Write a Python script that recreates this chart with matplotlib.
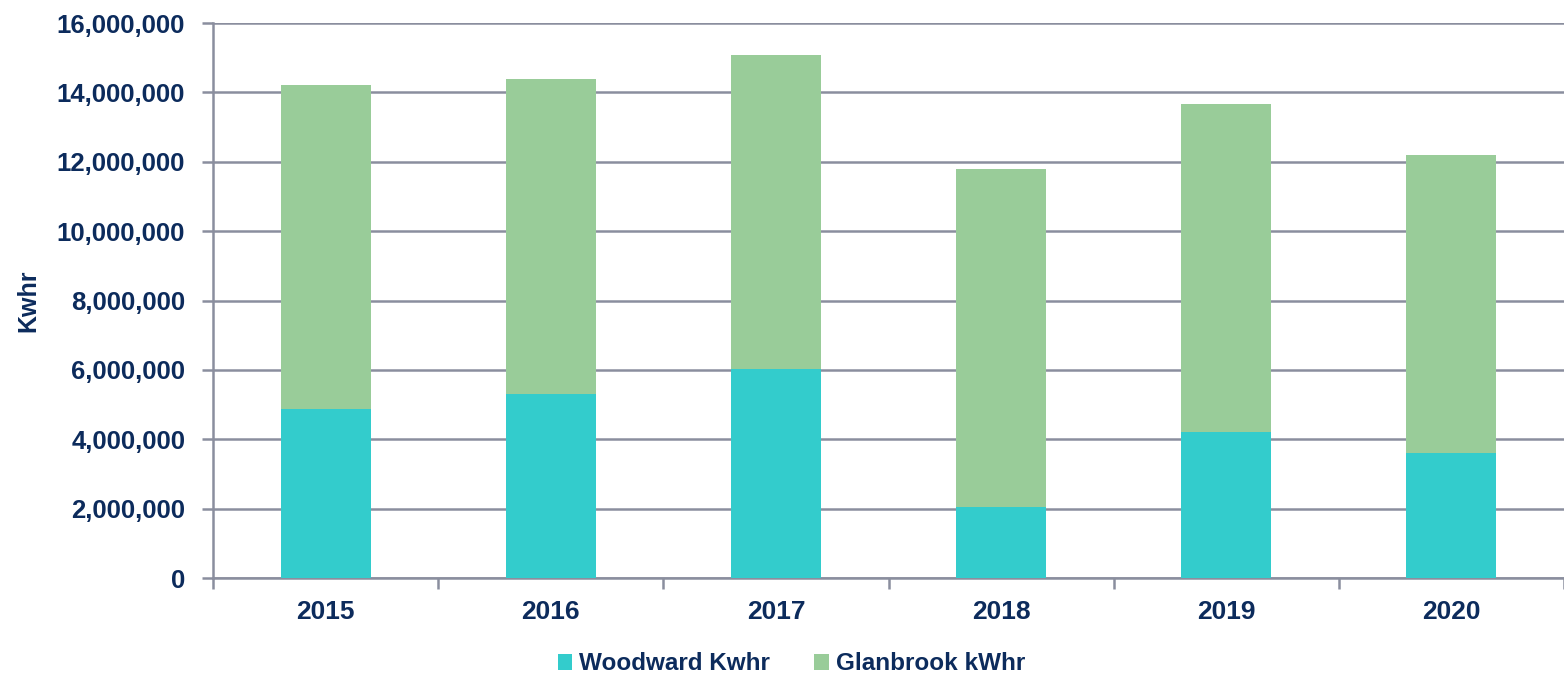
import matplotlib
matplotlib.use('Agg')

import numpy as np
from matplotlib import pyplot as plt
from matplotlib.ticker import FuncFormatter

years = ['2015', '2016', '2017', '2018', '2019', '2020']
woodward = [4.86e6, 5.31e6, 6.02e6, 2.06e6, 4.20e6, 3.61e6]
glanbrook = [9.34e6, 9.07e6, 9.06e6, 9.73e6, 9.46e6, 8.58e6]

navy = '#0c2b5c'
grid_col = '#8a8e9e'

plt.rcParams['font.family'] = ['Liberation Sans', 'DejaVu Sans']
plt.rcParams['font.weight'] = 'bold'

fig = plt.figure(figsize=(15.64, 6.75), dpi=100)
ax = fig.add_axes([213/1564, 1 - 578/675, 1 - 213/1564, (578 - 23)/675])

x = np.arange(len(years))
ax.bar(x, woodward, width=0.4, color='#33cccc', label='Woodward Kwhr', zorder=3)
ax.bar(x, glanbrook, width=0.4, bottom=woodward, color='#99cc99',
       label='Glanbrook kWhr', zorder=3)

ax.set_xlim(-0.5, len(years) - 0.5)
ax.set_ylim(0, 16e6)
ax.set_yticks(np.arange(0, 16e6 + 1, 2e6))
ax.yaxis.set_major_formatter(FuncFormatter(lambda v, p: '{:,.0f}'.format(v)))
ax.grid(axis='y', color=grid_col, linewidth=1.8, zorder=0)

# category labels centred, ticks on the boundaries
ax.set_xticks(x)
ax.set_xticklabels(years)
ax.set_xticks(np.arange(-0.5, len(years)), minor=True)
ax.tick_params(axis='x', which='major', length=0, pad=16, labelsize=19, labelcolor=navy)
ax.tick_params(axis='x', which='minor', length=8, width=1.8, color=grid_col)
ax.tick_params(axis='y', length=8, width=1.8, color=grid_col, labelsize=18.5,
               labelcolor=navy, pad=12)

for s in ['top', 'right']:
    ax.spines[s].set_visible(False)
for s in ['left', 'bottom']:
    ax.spines[s].set_color(grid_col)
    ax.spines[s].set_linewidth(1.8)

ax.set_ylabel('Kwhr', fontsize=18, color=navy, fontweight='bold')
ax.yaxis.set_label_coords(-0.128, 0.5)

leg = fig.legend(loc='center', bbox_to_anchor=(0.506, 1 - 664/675), ncol=2,
                 frameon=False, fontsize=17.5, handlelength=0.6, handleheight=0.6,
                 handletextpad=0.3, columnspacing=1.8, borderpad=0)
for t in leg.get_texts():
    t.set_color(navy)

plt.savefig('out.png', dpi=100)
